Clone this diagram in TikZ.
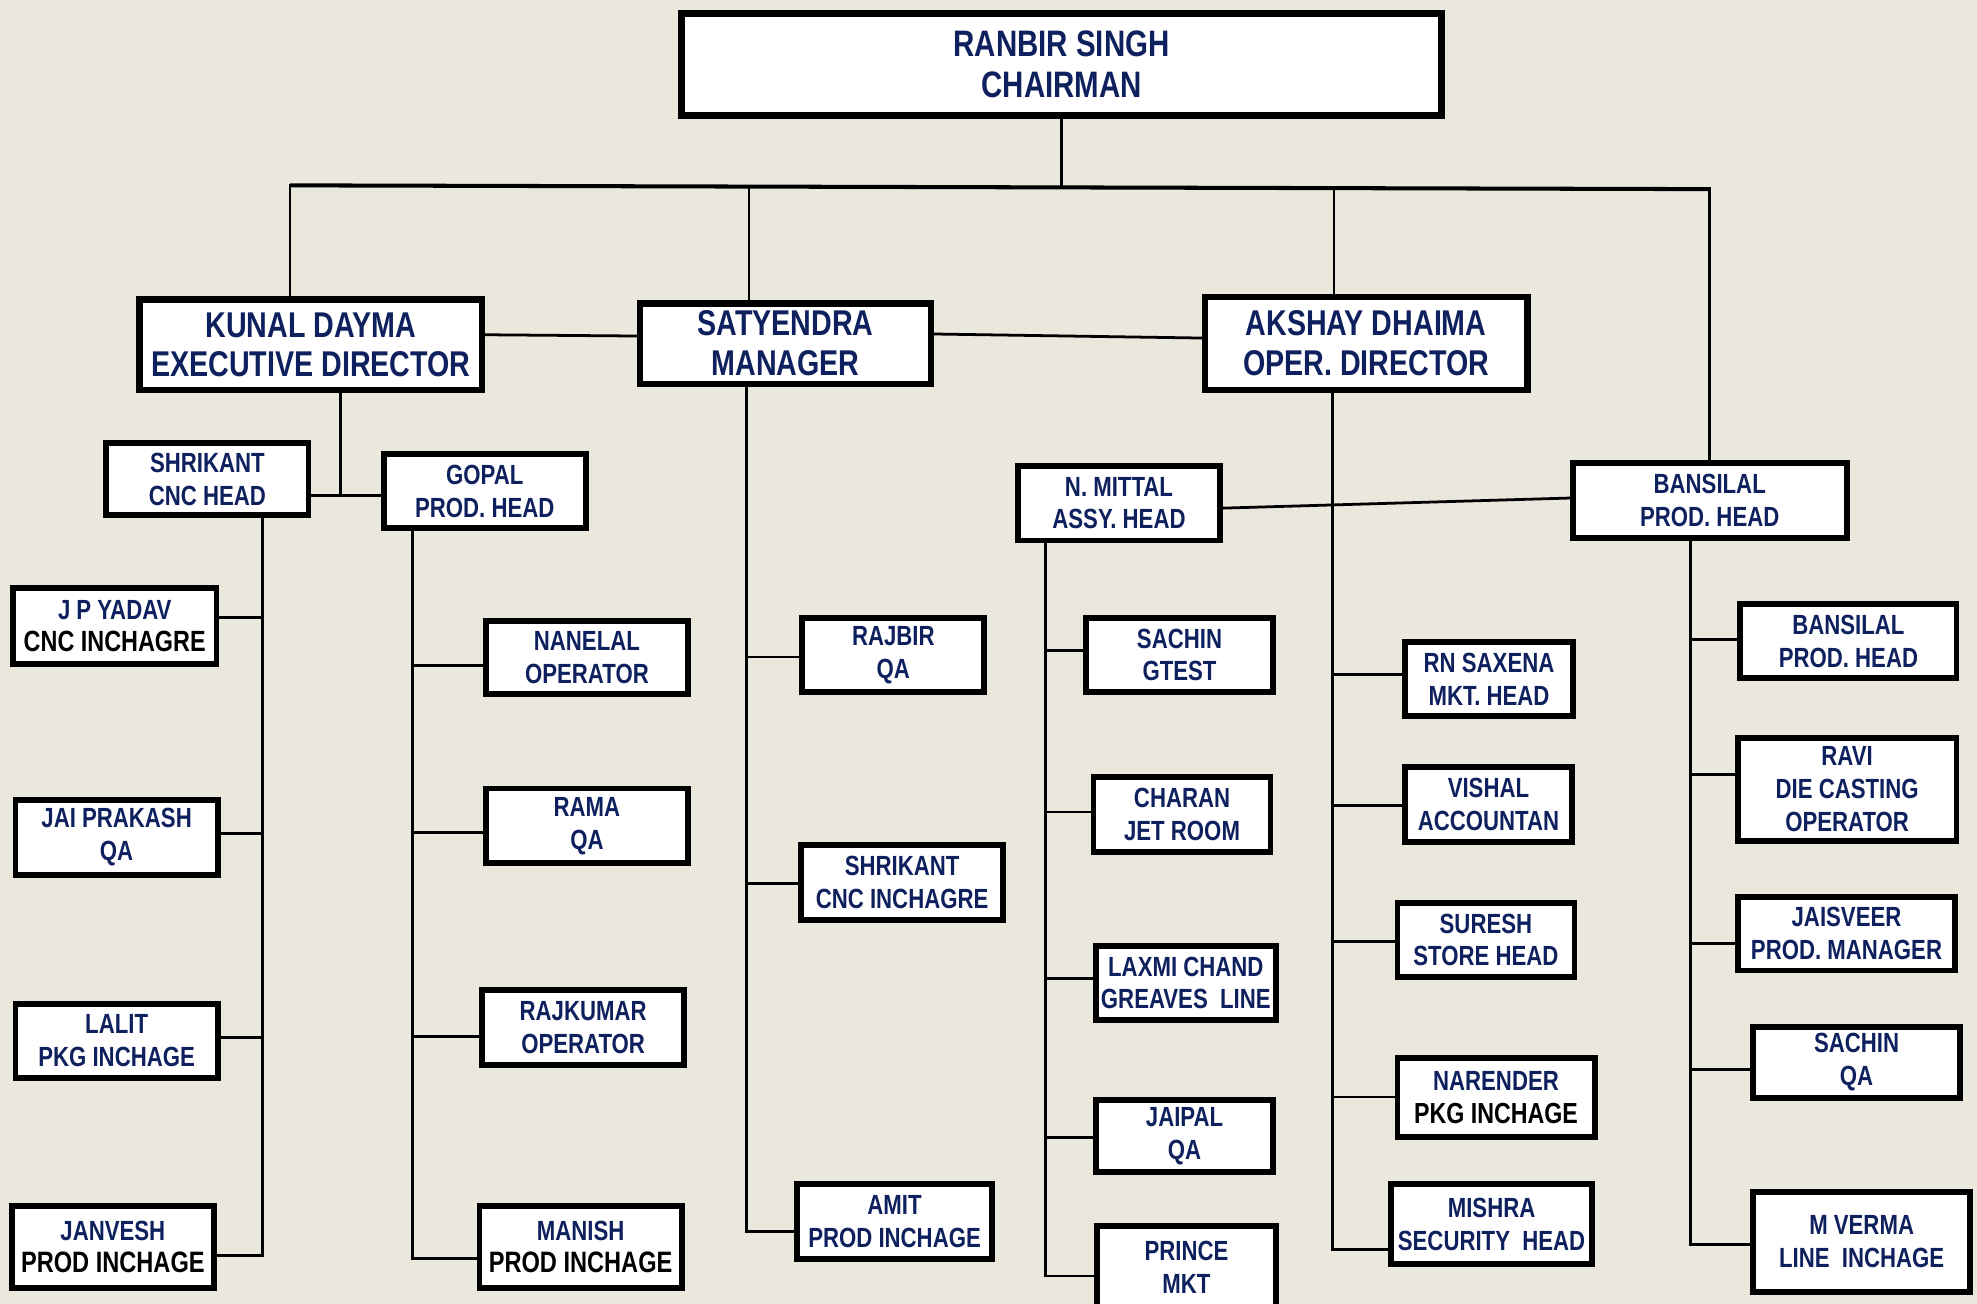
\documentclass[tikz,border=0pt]{standalone}
\usepackage{fontspec}
\newfontfamily\orgfont[FakeStretch=0.8]{Liberation Sans}
\definecolor{navy}{RGB}{14,33,94}
\definecolor{paper}{RGB}{234,231,220}

\begin{document}
\begin{tikzpicture}[x=0.5pt,y=-0.5pt,
	headbox/.style = {draw,line width=2.6pt,fill=white,text=navy,align=center,inner sep=0pt,font=\orgfont\bfseries\fontsize{14.2}{15.8}\selectfont},
	staffbox/.style = {draw,line width=2.3pt,fill=white,text=navy,align=center,inner sep=0pt,font=\orgfont\bfseries\fontsize{11}{13}\selectfont},
	link/.style = {line width=1.1pt,line cap=rect}
	]
	\path[use as bounding box,fill=paper] (0,0) rectangle (1568,1034);
	\clip (0,0) rectangle (1568,1034);
	%CAPO
	\node[headbox,minimum width=301.4pt,minimum height=40.4pt,font=\orgfont\bfseries\fontsize{14.6}{16.5}\selectfont] (@chair) at (842,51) {RANBIR SINGH\\CHAIRMAN};
	%DIRETTORI
	\node[headbox,minimum width=135.9pt,minimum height=35.9pt] (@kunal) at (246.5,273.5) {KUNAL DAYMA\\EXECUTIVE DIRECTOR};
	\node[headbox,minimum width=115.4pt,minimum height=31.9pt] (@satyendra) at (623,272.5) {SATYENDRA\\MANAGER};
	\node[headbox,minimum width=127.9pt,minimum height=36.9pt] (@akshay) at (1083.5,272.5) {AKSHAY DHAIMA\\OPER. DIRECTOR};
	%CAPI REPARTO
	\node[staffbox,minimum width=80.2pt,minimum height=28.7pt] (@shrikant) at (164.5,380) {SHRIKANT\\CNC HEAD};
	\node[staffbox,minimum width=80.2pt,minimum height=29.2pt] (@gopal) at (384.5,389.5) {GOPAL\\PROD. HEAD};
	\node[staffbox,minimum width=80.2pt,minimum height=29.7pt] (@mittal) at (887.5,399) {N. MITTAL\\ASSY. HEAD};
	\node[staffbox,minimum width=108.7pt,minimum height=29.7pt] (@bansil) at (1356,397) {BANSILAL\\PROD. HEAD};
	%Colonna 1
	\node[staffbox,minimum width=80.7pt,minimum height=30.2pt] (@jpyadav) at (91,496.5) {J P YADAV\\{\color{black}\fontsize{11.6}{13}\selectfont CNC INCHAGRE}};
	\node[staffbox,minimum width=80.2pt,minimum height=29.7pt] (@jai) at (92.5,664) {JAI PRAKASH\\QA};
	\node[staffbox,minimum width=80.2pt,minimum height=29.2pt] (@lalit) at (92.5,825.5) {LALIT\\PKG INCHAGE};
	\node[staffbox,minimum width=80.2pt,minimum height=32.7pt] (@janvesh) at (89.5,989) {JANVESH\\{\color{black}\fontsize{11.7}{13}\selectfont PROD INCHAGE}};
	%Colonna 2
	\node[staffbox,minimum width=80.2pt,minimum height=29.2pt] (@nanelal) at (465.5,521.5) {NANELAL\\OPERATOR};
	\node[staffbox,minimum width=80.2pt,minimum height=29.7pt] (@rama) at (465.5,655) {RAMA\\QA};
	\node[staffbox,minimum width=80.2pt,minimum height=29.7pt] (@rajkumar) at (462.5,815) {RAJKUMAR\\OPERATOR};
	\node[staffbox,minimum width=80.2pt,minimum height=32.7pt] (@manish) at (460.5,989) {MANISH\\{\color{black}\fontsize{11.7}{13}\selectfont PROD INCHAGE}};
	%Colonna 3
	\node[staffbox,minimum width=72.2pt,minimum height=29.2pt] (@rajbir) at (708.5,519.5) {RAJBIR\\QA};
	\node[staffbox,minimum width=80.2pt,minimum height=29.7pt] (@shrikantb) at (715.5,700) {SHRIKANT\\CNC INCHAGRE};
	\node[staffbox,minimum width=77.2pt,minimum height=29.7pt] (@amit) at (709.5,969) {AMIT\\PROD INCHAGE};
	%Colonna 4
	\node[staffbox,minimum width=74.2pt,minimum height=29.2pt] (@sachin) at (935.5,519.5) {SACHIN\\GTEST};
	\node[staffbox,minimum width=70.2pt,minimum height=29.7pt] (@charan) at (937.5,646) {CHARAN\\JET ROOM};
	\node[staffbox,minimum width=71.2pt,minimum height=29.2pt] (@laxmi) at (940.5,779.5) {LAXMI CHAND\\GREAVES\ \ LINE};
	\node[staffbox,minimum width=70.2pt,minimum height=28.7pt] (@jaipal) at (939.5,901) {JAIPAL\\QA};
	\node[staffbox,minimum width=70.7pt,minimum height=32.7pt] (@prince) at (941,1005) {PRINCE\\MKT};
	%Colonna 5
	\node[staffbox,minimum width=66.7pt,minimum height=29.2pt] (@saxena) at (1181,538.5) {RN SAXENA\\MKT. HEAD};
	\node[staffbox,minimum width=66.2pt,minimum height=29.7pt] (@vishal) at (1180.5,638) {VISHAL\\ACCOUNTAN};
	\node[staffbox,minimum width=70.2pt,minimum height=29.2pt] (@suresh) at (1178.5,745.5) {SURESH\\STORE HEAD};
	\node[staffbox,minimum width=78.2pt,minimum height=31.2pt] (@narender) at (1186.5,870.5) {NARENDER\\{\color{black}\fontsize{11.5}{13}\selectfont PKG INCHAGE}};
	\node[staffbox,minimum width=79.7pt,minimum height=31.7pt] (@mishra) at (1183,971) {MISHRA\\SECURITY\ \ HEAD};
	%Colonna 6
	\node[staffbox,minimum width=85.7pt,minimum height=29.2pt] (@bansilb) at (1466,508.5) {BANSILAL\\PROD. HEAD};
	\node[staffbox,minimum width=86.7pt,minimum height=40.7pt] (@ravi) at (1465,626) {RAVI\\DIE CASTING\\OPERATOR};
	\node[staffbox,minimum width=86.2pt,minimum height=29.2pt] (@jaisveer) at (1464.5,740.5) {JAISVEER\\PROD. MANAGER};
	\node[staffbox,minimum width=82.2pt,minimum height=28.2pt] (@sachinb) at (1472.5,842.5) {SACHIN\\QA};
	\node[staffbox,minimum width=86.2pt,minimum height=39.7pt] (@mverma) at (1476.5,985) {M VERMA\\LINE\ \ INCHAGE};
	%BUS
	\coordinate (@busL) at (230,147);
	\coordinate (@busR) at (1357,150);
	\draw[line width=1.6pt] (@busL) -- (@busR);
	\draw[link] (@chair) -- (@chair |- 0,149);
	\draw[link] (@busL) -- (@busL |- @kunal.north);
	\draw[link] ([xshift=-14.5pt]@satyendra.north) -- ([xshift=-14.5pt]@satyendra.north |- 0,148);
	\draw[link] ([xshift=-12.75pt]@akshay.north) -- ([xshift=-12.75pt]@akshay.north |- 0,149);
	\draw[link] (@bansil) -- (@bansil |- @busR);
	%Orizzontali
	\draw[link] ([yshift=4pt]@kunal.east) -- ([yshift=3pt]@satyendra.west);
	\draw[link] ([yshift=3.8pt]@satyendra.east) -- ([yshift=2.2pt]@akshay.west);
	\draw[link] ([yshift=-2pt]@mittal.east) -- ([yshift=1pt]@bansil.west);
	\coordinate (@kj) at (270,393);
	\draw[link] (@kunal.south -| @kj) -- (@kj);
	\draw[link] (@shrikant.east |- @kj) -- (@gopal.west |- @kj);
	%TRONCHI
	\coordinate (@t1) at (208,996);
	\coordinate (@t2) at (327,998);
	\coordinate (@t3) at (592,977);
	\coordinate (@t4) at (829,1012);
	\coordinate (@t5) at (1057,991);
	\coordinate (@t6) at (1341,987);
	\draw[link] (@shrikant.south -| @t1) -- (@t1);
	\draw[link] (@gopal.south -| @t2) -- (@t2);
	\draw[link] (@satyendra.south -| @t3) -- (@t3);
	\draw[link] (@mittal.south -| @t4) -- (@t4);
	\draw[link] (@akshay.south -| @t5) -- (@t5);
	\draw[link] (@bansil.south -| @t6) -- (@t6);
	%Rami
	\foreach \n/\dy in {jpyadav/3.25,jai/1.5,lalit/1.25,janvesh/-3.5}
		\draw[link] ([yshift=\dy pt]@\n.east) coordinate (@b) -- (@b -| @t1);
	\foreach \n/\dy in {nanelal/-3.25,rama/-2.5,rajkumar/-3.5,manish/-4.5}
		\draw[link] ([yshift=\dy pt]@\n.west) coordinate (@b) -- (@b -| @t2);
	\foreach \n/\dy in {rajbir/-0.75,shrikantb/-0.5,amit/-4}
		\draw[link] ([yshift=\dy pt]@\n.west) coordinate (@b) -- (@b -| @t3);
	\foreach \n/\dy in {sachin/1.75,charan/1,laxmi/1.75,jaipal/-0.5,prince/-3.5}
		\draw[link] ([yshift=\dy pt]@\n.west) coordinate (@b) -- (@b -| @t4);
	\foreach \n/\dy in {saxena/1.75,vishal/-0.5,suresh/-0.75,narender/0.25,mishra/-10}
		\draw[link] ([yshift=\dy pt]@\n.west) coordinate (@b) -- (@b -| @t5);
	\foreach \n/\dy in {bansilb/0.75,ravi/6,jaisveer/-3.75,sachinb/-2.75,mverma/-1}
		\draw[link] ([yshift=\dy pt]@\n.west) coordinate (@b) -- (@b -| @t6);
\end{tikzpicture}
\end{document}
